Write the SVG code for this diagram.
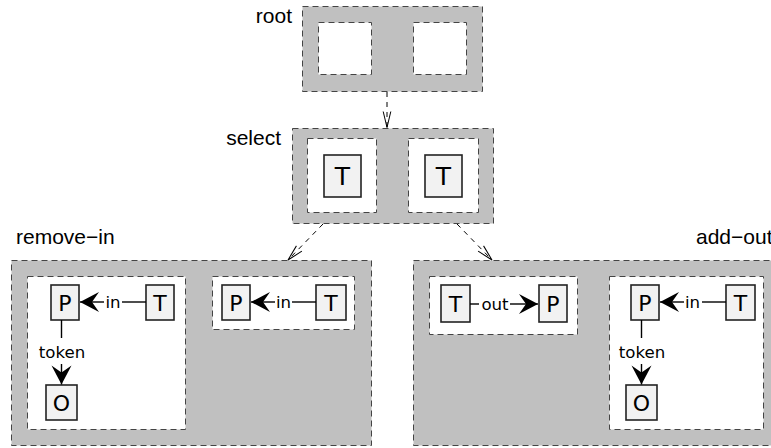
<svg xmlns="http://www.w3.org/2000/svg" width="771" height="448" viewBox="0 0 771 448">
<style>
.outer{fill:#c0c0c0;stroke:#444;stroke-width:1;stroke-dasharray:6,4}
.inner{fill:#fff;stroke:#444;stroke-width:1;stroke-dasharray:6,4}
.node{fill:#f2f2f2;stroke:#222;stroke-width:1.6}
.nl{font-family:"DejaVu Sans",sans-serif;font-size:22px;text-anchor:middle;fill:#000}
.nlb{font-family:"DejaVu Sans",sans-serif;font-size:25px;text-anchor:middle;fill:#000}
.el{font-family:"DejaVu Sans",sans-serif;font-size:16.6px;text-anchor:middle;fill:#000}
.gl{font-family:"Liberation Sans",Arial,sans-serif;font-size:21px;fill:#000}
.edge{fill:none;stroke:#000;stroke-width:1.4}
.dash{fill:none;stroke:#000;stroke-width:1;stroke-dasharray:5,5}
</style>
<defs>
<marker id="ah" markerUnits="userSpaceOnUse" viewBox="-20 -11 21 22" markerWidth="21" markerHeight="22" refX="0" refY="0" orient="auto">
<path d="M0,0 L-19,-10 L-12,0 L-19,10 Z" fill="#000"/>
</marker>
<marker id="ov" markerUnits="userSpaceOnUse" viewBox="-18 -6 20 12" markerWidth="20" markerHeight="12" refX="0" refY="0" orient="auto">
<path d="M-16,-3.8 L0,0 L-16,3.8" fill="none" stroke="#000" stroke-width="1"/>
</marker>
</defs>

<g id="root">
<rect class="outer" x="302.5" y="6.5" width="180" height="85"/>
<rect class="inner" x="318.5" y="22.5" width="53" height="52"/>
<rect class="inner" x="413.5" y="22.5" width="53" height="52"/>
<text class="gl" x="292" y="23" text-anchor="end">root</text>
</g>

<g id="select">
<rect class="outer" x="292.5" y="128.5" width="201" height="95"/>
<rect class="inner" x="307.5" y="138.5" width="69" height="74"/>
<rect class="inner" x="408.5" y="138.5" width="70" height="74"/>
<text class="gl" x="281" y="145" text-anchor="end">select</text>
<g id="select-t1"><rect class="node" x="324" y="155" width="37" height="42"/><text class="nlb" x="342.5" y="185">T</text></g>
<g id="select-t2"><rect class="node" x="425" y="155" width="37" height="42"/><text class="nlb" x="443.5" y="185">T</text></g>
</g>

<g id="remove-in">
<rect class="outer" x="11.5" y="260.5" width="360" height="185"/>
<rect class="inner" x="27.5" y="276.5" width="158" height="153"/>
<rect class="inner" x="212.5" y="276.5" width="142" height="53"/>
<text class="gl" x="16" y="244">remove−in</text>
<g id="ri-p1"><rect class="node" x="51" y="285" width="28" height="35"/><text class="nl" x="65" y="310.5">P</text></g>
<g id="ri-t1"><rect class="node" x="146" y="285" width="28" height="35"/><text class="nl" x="160" y="310.5">T</text></g>
<g id="ri-o1"><rect class="node" x="46" y="385" width="31" height="35"/><text class="nl" x="61.5" y="410.5">O</text></g>
<g id="ri-p2"><rect class="node" x="222" y="285" width="28" height="35"/><text class="nl" x="236" y="310.5">P</text></g>
<g id="ri-t2"><rect class="node" x="316" y="285" width="30" height="35"/><text class="nl" x="331" y="310.5">T</text></g>
</g>

<g id="add-out">
<rect class="outer" x="413.5" y="260.5" width="370" height="185"/>
<rect class="inner" x="429.5" y="276.5" width="148" height="58"/>
<rect class="inner" x="609.5" y="276.5" width="154" height="153"/>
<text class="gl" x="696" y="244">add−out</text>
<g id="ao-t1"><rect class="node" x="441" y="285" width="29" height="37"/><text class="nl" x="455.5" y="311.5">T</text></g>
<g id="ao-p1"><rect class="node" x="539" y="285" width="28" height="37"/><text class="nl" x="553" y="311.5">P</text></g>
<g id="ao-p2"><rect class="node" x="631" y="285" width="28" height="35"/><text class="nl" x="645" y="310.5">P</text></g>
<g id="ao-t2"><rect class="node" x="726" y="285" width="29" height="35"/><text class="nl" x="740.5" y="310.5">T</text></g>
<g id="ao-o2"><rect class="node" x="626" y="385" width="31" height="35"/><text class="nl" x="641.5" y="410.5">O</text></g>
</g>

<g id="connectors">
<line class="dash" x1="387" y1="92" x2="387" y2="127.5" marker-end="url(#ov)"/>
<line class="dash" x1="323" y1="224" x2="288" y2="260" marker-end="url(#ov)"/>
<line class="dash" x1="457" y1="224" x2="492" y2="260" marker-end="url(#ov)"/>

<line class="edge" x1="146" y1="302" x2="122" y2="302"/>
<text class="el" x="113" y="308">in</text>
<line class="edge" x1="104" y1="302" x2="80" y2="302" marker-end="url(#ah)"/>
<line class="edge" x1="61.5" y1="320" x2="61.5" y2="338"/>
<text class="el" x="62" y="358">token</text>
<line class="edge" x1="61.5" y1="364" x2="61.5" y2="384.5" marker-end="url(#ah)"/>

<line class="edge" x1="316" y1="302" x2="292" y2="302"/>
<text class="el" x="283.5" y="308">in</text>
<line class="edge" x1="275" y1="302" x2="251" y2="302" marker-end="url(#ah)"/>

<line class="edge" x1="470" y1="304" x2="479" y2="304"/>
<text class="el" x="495" y="309.5">out</text>
<line class="edge" x1="510" y1="304" x2="538" y2="304" marker-end="url(#ah)"/>

<line class="edge" x1="726" y1="302" x2="702" y2="302"/>
<text class="el" x="692.5" y="308">in</text>
<line class="edge" x1="684" y1="302" x2="660" y2="302" marker-end="url(#ah)"/>
<line class="edge" x1="641.5" y1="320" x2="641.5" y2="338"/>
<text class="el" x="642" y="358">token</text>
<line class="edge" x1="641.5" y1="364" x2="641.5" y2="384.5" marker-end="url(#ah)"/>
</g>
</svg>
